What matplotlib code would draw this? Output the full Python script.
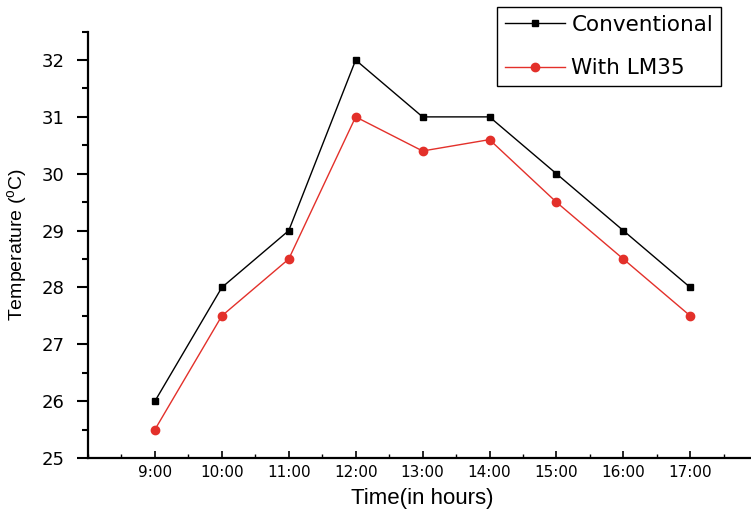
import matplotlib

matplotlib.use("Agg")
import matplotlib.pyplot as plt
from matplotlib.ticker import MultipleLocator

hours = [9, 10, 11, 12, 13, 14, 15, 16, 17]
hour_labels = ["9:00", "10:00", "11:00", "12:00", "13:00", "14:00", "15:00", "16:00", "17:00"]
conventional = [26, 28, 29, 32, 31, 31, 30, 29, 28]
with_lm35 = [25.5, 27.5, 28.5, 31, 30.4, 30.6, 29.5, 28.5, 27.5]

fig = plt.figure(figsize=(7.51, 5.13), dpi=100)
ax = fig.add_axes([0.1172, 0.1072, 0.891, 0.8312])

ax.plot(hours, conventional, color="black", lw=1.0, marker="s", ms=5,
        label="Conventional")
ax.plot(hours, with_lm35, color="#e3302a", lw=1.0, marker="o", ms=6,
        label="With LM35")

ax.set_xlim(8, 18)
ax.set_ylim(25, 32.5)
ax.set_xticks(hours)
ax.set_xticklabels(hour_labels, fontsize=11, family="DejaVu Sans")
ax.xaxis.set_minor_locator(MultipleLocator(0.5))
ax.yaxis.set_major_locator(MultipleLocator(1))
ax.yaxis.set_minor_locator(MultipleLocator(0.5))
ax.tick_params(axis="y", which="major", direction="out", length=8, width=1.5,
               labelsize=13, pad=9)
ax.tick_params(axis="y", which="minor", direction="out", length=4, width=1.5)
ax.tick_params(axis="x", which="major", direction="in", length=5, width=1.2,
               pad=5)
ax.tick_params(axis="x", which="minor", direction="in", length=3, width=1.0)

for side in ("top", "right"):
    ax.spines[side].set_visible(False)
ax.spines["left"].set_linewidth(1.6)
ax.spines["bottom"].set_linewidth(1.6)

ax.set_ylabel("Temperature ($^{\\mathregular{o}}$C)", fontsize=14,
              family=["Liberation Sans", "DejaVu Sans"], labelpad=8)
ax.set_xlabel("Time(in hours)", fontsize=16,
              family=["Liberation Sans", "DejaVu Sans"], labelpad=6)

leg = fig.legend(loc="upper left", bbox_to_anchor=(0.662, 0.986),
                 fontsize=15.5, frameon=True, fancybox=False, edgecolor="black",
                 framealpha=1, handlelength=2.8, handletextpad=0.3,
                 labelspacing=1.1, borderpad=0.35, borderaxespad=0)
leg.get_frame().set_linewidth(1.0)

fig.savefig("out.png", dpi=100)
